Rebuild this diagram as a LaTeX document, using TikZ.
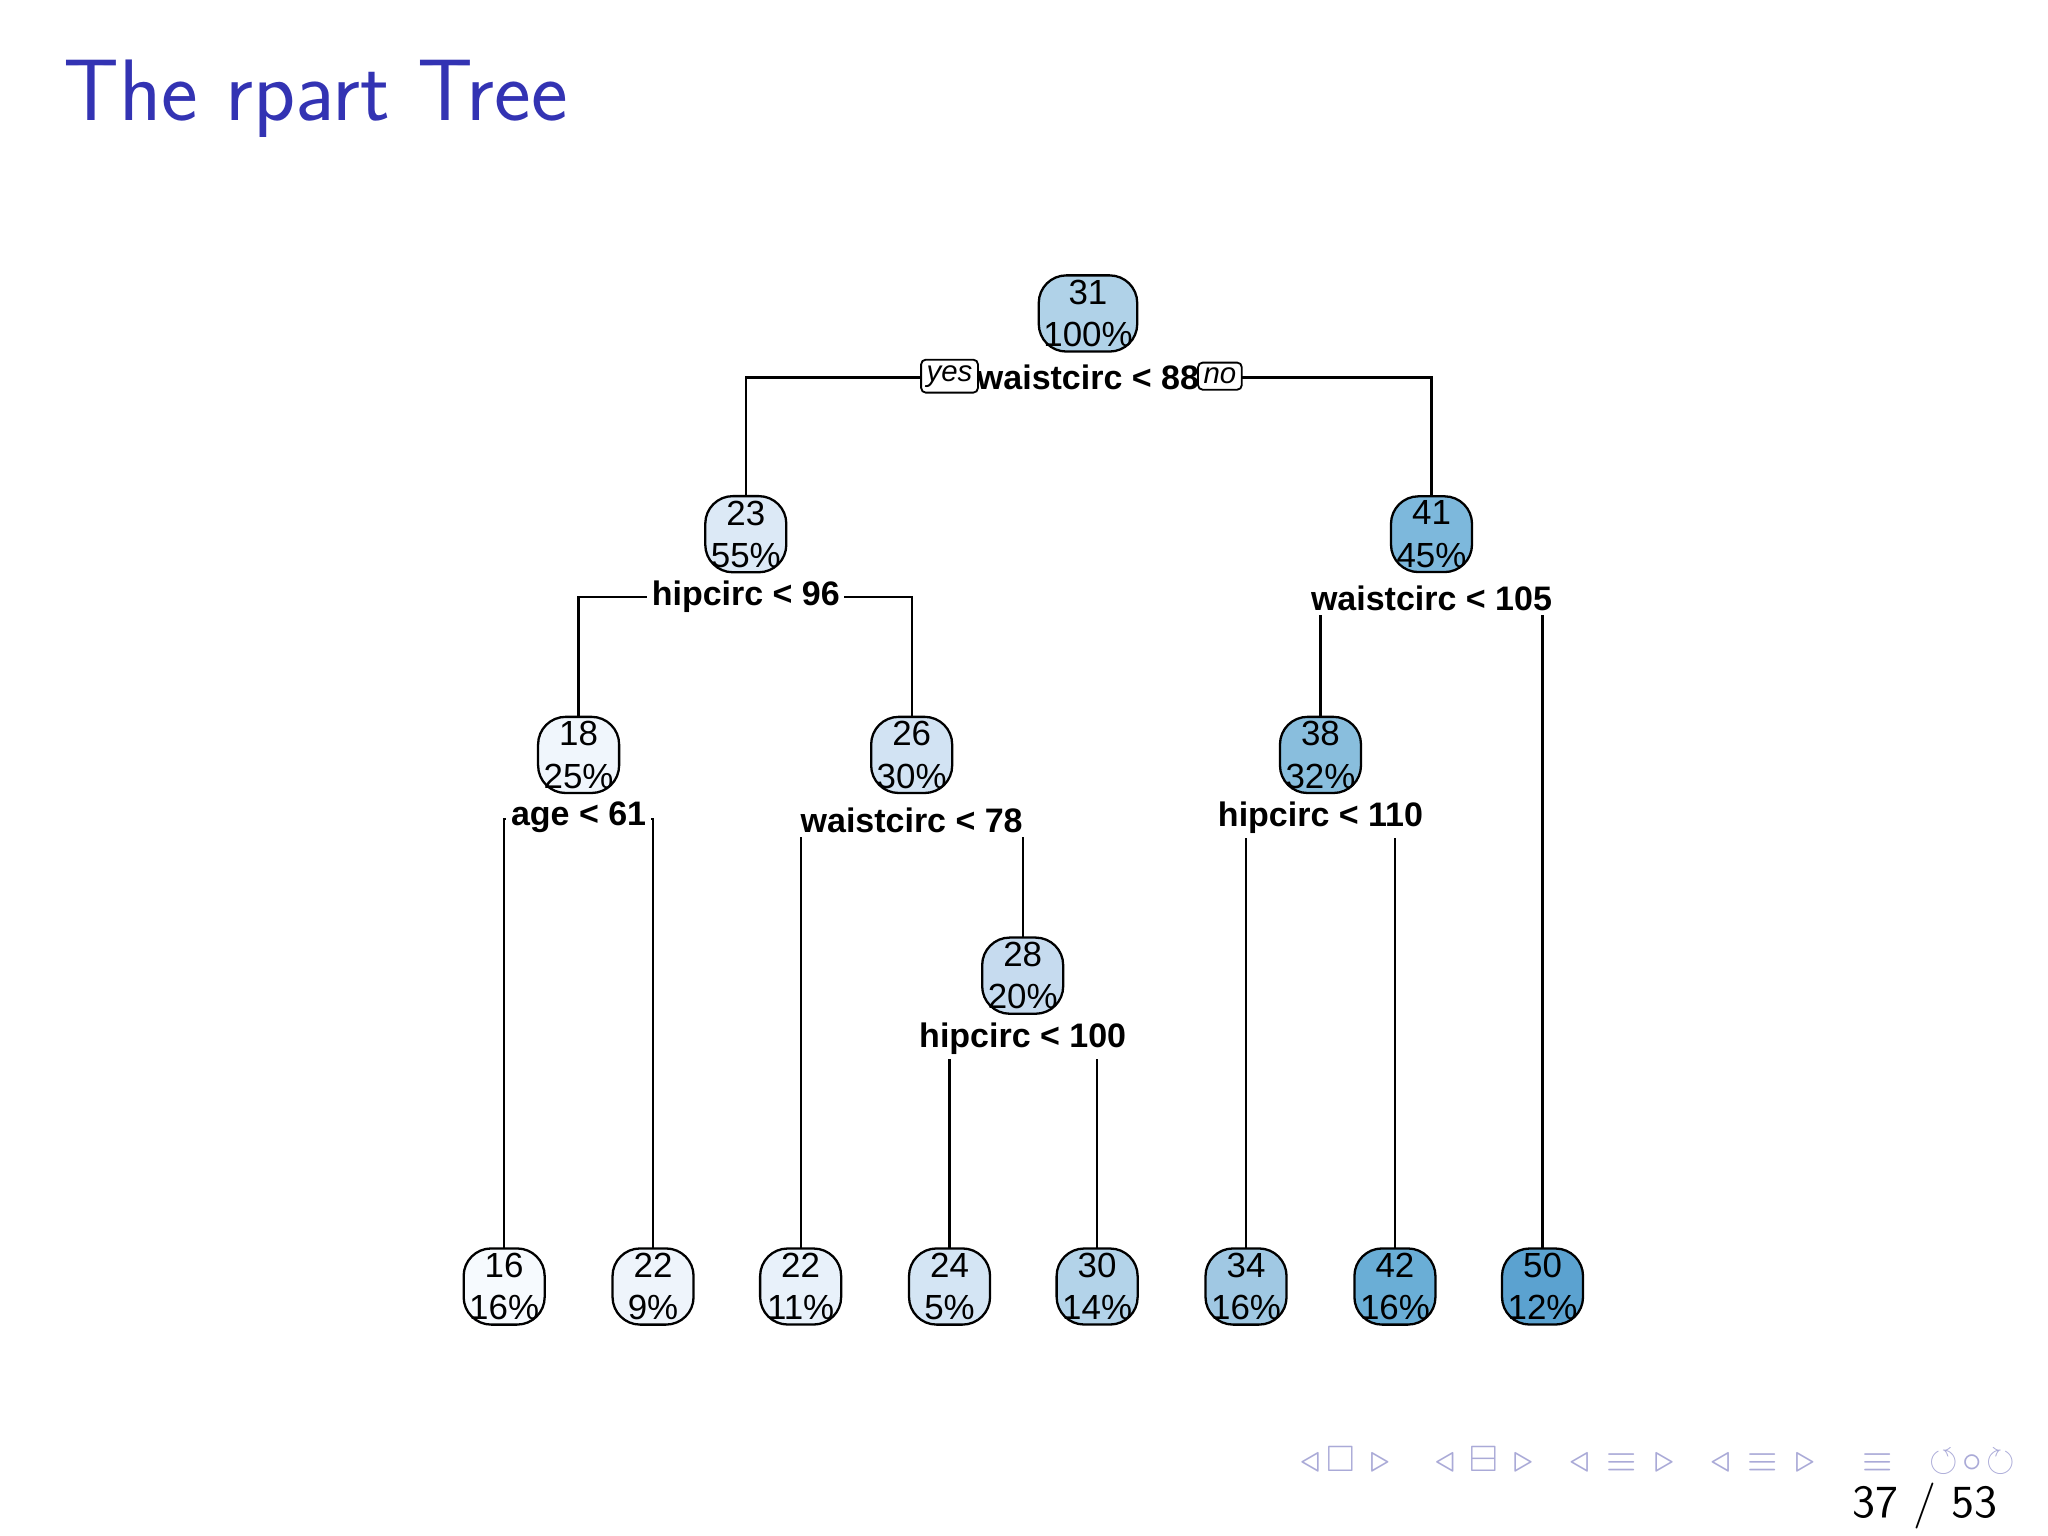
\documentclass[tikz,border=0pt]{standalone}
\usepackage{amssymb}
\usepackage{fontspec}
\newfontfamily\tf{Liberation Sans}
\begin{document}
\begin{tikzpicture}[x=0.01cm,y=-0.01cm,
  nd/.style={draw=black,rounded corners=6pt,line width=0.5pt,font=\tf\fontsize{7.6}{9.2}\selectfont,align=center,minimum width=0.62cm,minimum height=0.58cm,inner sep=1pt},
  sp/.style={fill=white,font=\tf\bfseries\fontsize{7.4}{9}\selectfont,inner sep=1pt},
  yn/.style={draw=black,fill=white,rounded corners=1pt,font=\tf\itshape\fontsize{6.4}{7}\selectfont,inner sep=1.2pt},
  ln/.style={line width=0.5pt}]
\useasboundingbox (0,0) rectangle (1568,1176);
\node[anchor=base west,font=\sffamily\fontsize{19}{22}\selectfont,text={rgb,255:red,51;green,51;blue,179}] (title) at (36,92) {The rpart Tree};
% splits lines
\draw[ln] (571,381) -- (571,289) -- (1096,289) -- (1096,381);
\draw[ln] (443,550) -- (443,457) -- (698,457) -- (698,550);
\draw[ln] (1011,550) -- (1011,458) -- (1181,458) -- (1181,956);
\draw[ln] (386,956) -- (386,627) -- (500,627) -- (500,956);
\draw[ln] (613,956) -- (613,628) -- (783,628) -- (783,719);
\draw[ln] (954,956) -- (954,640); \draw[ln] (1068,956) -- (1068,640);
\draw[ln] (727,956) -- (727,810); \draw[ln] (840,956) -- (840,810);
\node[sp] (s1) at (833,289) {waistcirc < 88};
\node[yn] (yes) at (727,288) {yes};
\node[yn] (no) at (934,288) {no};
\node[sp] (s2) at (571,457) {hipcirc < 96};
\node[sp] (s3) at (1096,458) {waistcirc < 105};
\node[sp] (s4) at (443,626) {age < 61};
\node[sp] (s5) at (698,628) {waistcirc < 78};
\node[sp] (s6) at (1011,626) {hipcirc < 110};
\node[sp] (s7) at (783,795) {hipcirc < 100};
% nodes
\node[nd,fill={rgb,255:red,176;green,210;blue,232}] (n1) at (833,240) {31\\100\%};
\node[nd,fill={rgb,255:red,220;green,233;blue,246}] (n2) at (571,409) {23\\55\%};
\node[nd,fill={rgb,255:red,125;green,184;blue,220}] (n3) at (1096,409) {41\\45\%};
\node[nd,fill={rgb,255:red,240;green,246;blue,252}] (n4) at (443,578) {18\\25\%};
\node[nd,fill={rgb,255:red,210;green,227;blue,243}] (n5) at (698,578) {26\\30\%};
\node[nd,fill={rgb,255:red,137;green,190;blue,221}] (n6) at (1011,578) {38\\32\%};
\node[nd,fill={rgb,255:red,198;green,219;blue,239}] (n7) at (783,747) {28\\20\%};
\node[nd,fill={rgb,255:red,246;green,250;blue,254}] (l1) at (386,985) {16\\16\%};
\node[nd,fill={rgb,255:red,238;green,244;blue,251}] (l2) at (500,985) {22\\9\%};
\node[nd,fill={rgb,255:red,232;green,241;blue,250}] (l3) at (613,985) {22\\11\%};
\node[nd,fill={rgb,255:red,212;green,229;blue,244}] (l4) at (727,985) {24\\5\%};
\node[nd,fill={rgb,255:red,179;green,211;blue,233}] (l5) at (840,985) {30\\14\%};
\node[nd,fill={rgb,255:red,160;green,200;blue,227}] (l6) at (954,985) {34\\16\%};
\node[nd,fill={rgb,255:red,106;green,174;blue,214}] (l7) at (1068,985) {42\\16\%};
\node[nd,fill={rgb,255:red,91;green,162;blue,208}] (l8) at (1181,985) {50\\12\%};
% navigation
\node[anchor=east,text={rgb,255:red,170;green,170;blue,215},font=\fontsize{8}{8}\selectfont] (nav) at (1555,1118) {$\triangleleft\,\square\,\triangleright\quad\triangleleft\,\boxminus\,\triangleright\quad\triangleleft\,\equiv\,\triangleright\quad\triangleleft\,\equiv\,\triangleright\quad\equiv\quad\circlearrowleft\!\circ\!\circlearrowright$};
\node[anchor=east,font=\sffamily\fontsize{10}{10}\selectfont] (pg) at (1542,1153) {37 / 53};
\end{tikzpicture}
\end{document}
